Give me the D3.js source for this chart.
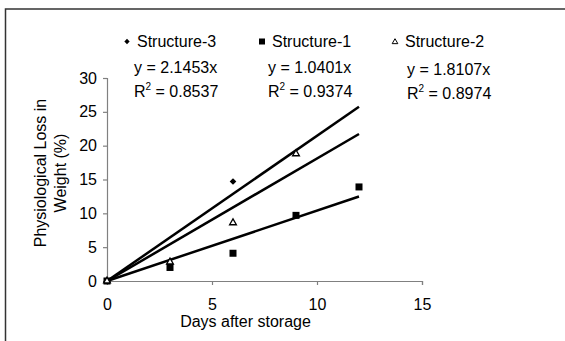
<!DOCTYPE html>
<html><head><meta charset="utf-8">
<script src="https://cdn.jsdelivr.net/npm/d3@7"></script>
<style>
html,body{margin:0;padding:0;background:#fff;}
svg{display:block;font-family:"Liberation Sans",Arial,sans-serif;}
</style></head>
<body>
<svg id="c" width="565" height="341"></svg>
<script>
// Data
const days = [0, 3, 6, 9, 12];
const structure1 = [0, 2.0, 4.1, 9.7, 13.9];
const structure2 = [0, 2.8, 8.6, 18.8, null];
const structure3 = [0, 2.4, 14.7, null, null];
const seriesNames = ["Structure-3", "Structure-1", "Structure-2"];
const slopes = [2.1453, 1.0401, 1.8107];
const r2 = ["0.8537", "0.9374", "0.8974"];
const xTicks = [0, 5, 10, 15];
const yTicks = [0, 5, 10, 15, 20, 25, 30];
const trendEnd = 12;

const svg = d3.select("#c");
const x = d3.scaleLinear().domain([0, 15]).range([107, 422]);
const y = d3.scaleLinear().domain([0, 30]).range([281, 78]);
const FS = 16;

// outer frame (left + top)
svg.append("path").attr("d", "M5.5,341 V9 H565").attr("fill", "none")
  .attr("stroke", "#333").attr("stroke-width", 1.5);

// axes
const axisColor = "#808080";
const yAxis = svg.append("g").attr("transform", "translate(107,0)")
  .call(d3.axisLeft(y).tickValues(yTicks).tickSize(4).tickPadding(6).tickFormat(d3.format("d")));
const xAxis = svg.append("g").attr("transform", "translate(0,281)")
  .call(d3.axisBottom(x).tickValues(xTicks).tickSize(4).tickPadding(14).tickFormat(d3.format("d")));
[xAxis, yAxis].forEach(a => {
  a.select(".domain").attr("stroke", axisColor).attr("stroke-width", 1.2);
  a.selectAll(".tick line").attr("stroke", axisColor).attr("stroke-width", 1.2);
  a.selectAll("text").attr("font-size", FS).attr("fill", "#000")
    .attr("font-family", "Liberation Sans, Arial, sans-serif");
});

// trendlines
const lineG = svg.append("g");
slopes.forEach(s => {
  lineG.append("line")
    .attr("x1", x(0)).attr("y1", y(0))
    .attr("x2", x(trendEnd)).attr("y2", y(s * trendEnd))
    .attr("stroke", "#000").attr("stroke-width", 2.5);
});

// markers
function pts(vals) { return days.map((d, i) => ({x: d, y: vals[i]})).filter(p => p.y !== null); }
svg.append("g").selectAll("path").data(pts(structure3)).join("path")
  .attr("d", d3.symbol().type(d3.symbolSquare).size(22))
  .attr("transform", d => `translate(${x(d.x)},${y(d.y)}) rotate(45)`).attr("fill", "#000");
svg.append("g").selectAll("rect").data(pts(structure1)).join("rect")
  .attr("x", d => x(d.x) - 3.5).attr("y", d => y(d.y) - 3.5)
  .attr("width", 7).attr("height", 7).attr("fill", "#000");
const tri = d3.symbol().type(d3.symbolTriangle).size(20);
svg.append("g").selectAll("path").data(pts(structure2)).join("path")
  .attr("d", tri).attr("transform", d => `translate(${x(d.x)},${y(d.y)})`)
  .attr("fill", "#fff").attr("stroke", "#000").attr("stroke-width", 1.3);

// legend
const legX = [127, 262, 395];
const legendG = svg.append("g").attr("font-size", FS);
seriesNames.forEach((n, i) => {
  legendG.append("text").attr("x", legX[i] + 10).attr("y", 47).text(n);
});
legendG.append("path").attr("d", d3.symbol().type(d3.symbolSquare).size(14))
  .attr("transform", `translate(${legX[0]},41.5) rotate(45)`);
legendG.append("rect").attr("x", legX[1] - 3).attr("y", 38.5).attr("width", 6).attr("height", 6);
legendG.append("path").attr("d", d3.symbol().type(d3.symbolTriangle).size(14))
  .attr("transform", `translate(${legX[2]},42)`).attr("fill", "#fff").attr("stroke", "#000").attr("stroke-width", 1);

// equations
const eqX = [134, 268, 407];
const eqY = [73, 73, 75];
slopes.forEach((s, i) => {
  legendG.append("text").attr("x", eqX[i]).attr("y", eqY[i]).text(`y = ${s}x`);
  const t = legendG.append("text").attr("x", eqX[i]).attr("y", eqY[i] + 24);
  t.append("tspan").text("R");
  t.append("tspan").attr("font-size", 10).attr("dy", -7).text("2");
  t.append("tspan").attr("dy", 7).text(` = ${r2[i]}`);
});

// axis titles
svg.append("text").attr("x", x(7.5) - 19).attr("y", 327).attr("text-anchor", "middle")
  .attr("font-size", FS).text("Days after storage");
const yt = svg.append("text").attr("transform", "translate(0,173) rotate(-90)")
  .attr("text-anchor", "middle").attr("font-size", FS);
yt.append("tspan").attr("x", 0).attr("y", 46).text("Physiological Loss in");
yt.append("tspan").attr("x", 0).attr("y", 66).text("Weight (%)");
</script>
</body></html>
